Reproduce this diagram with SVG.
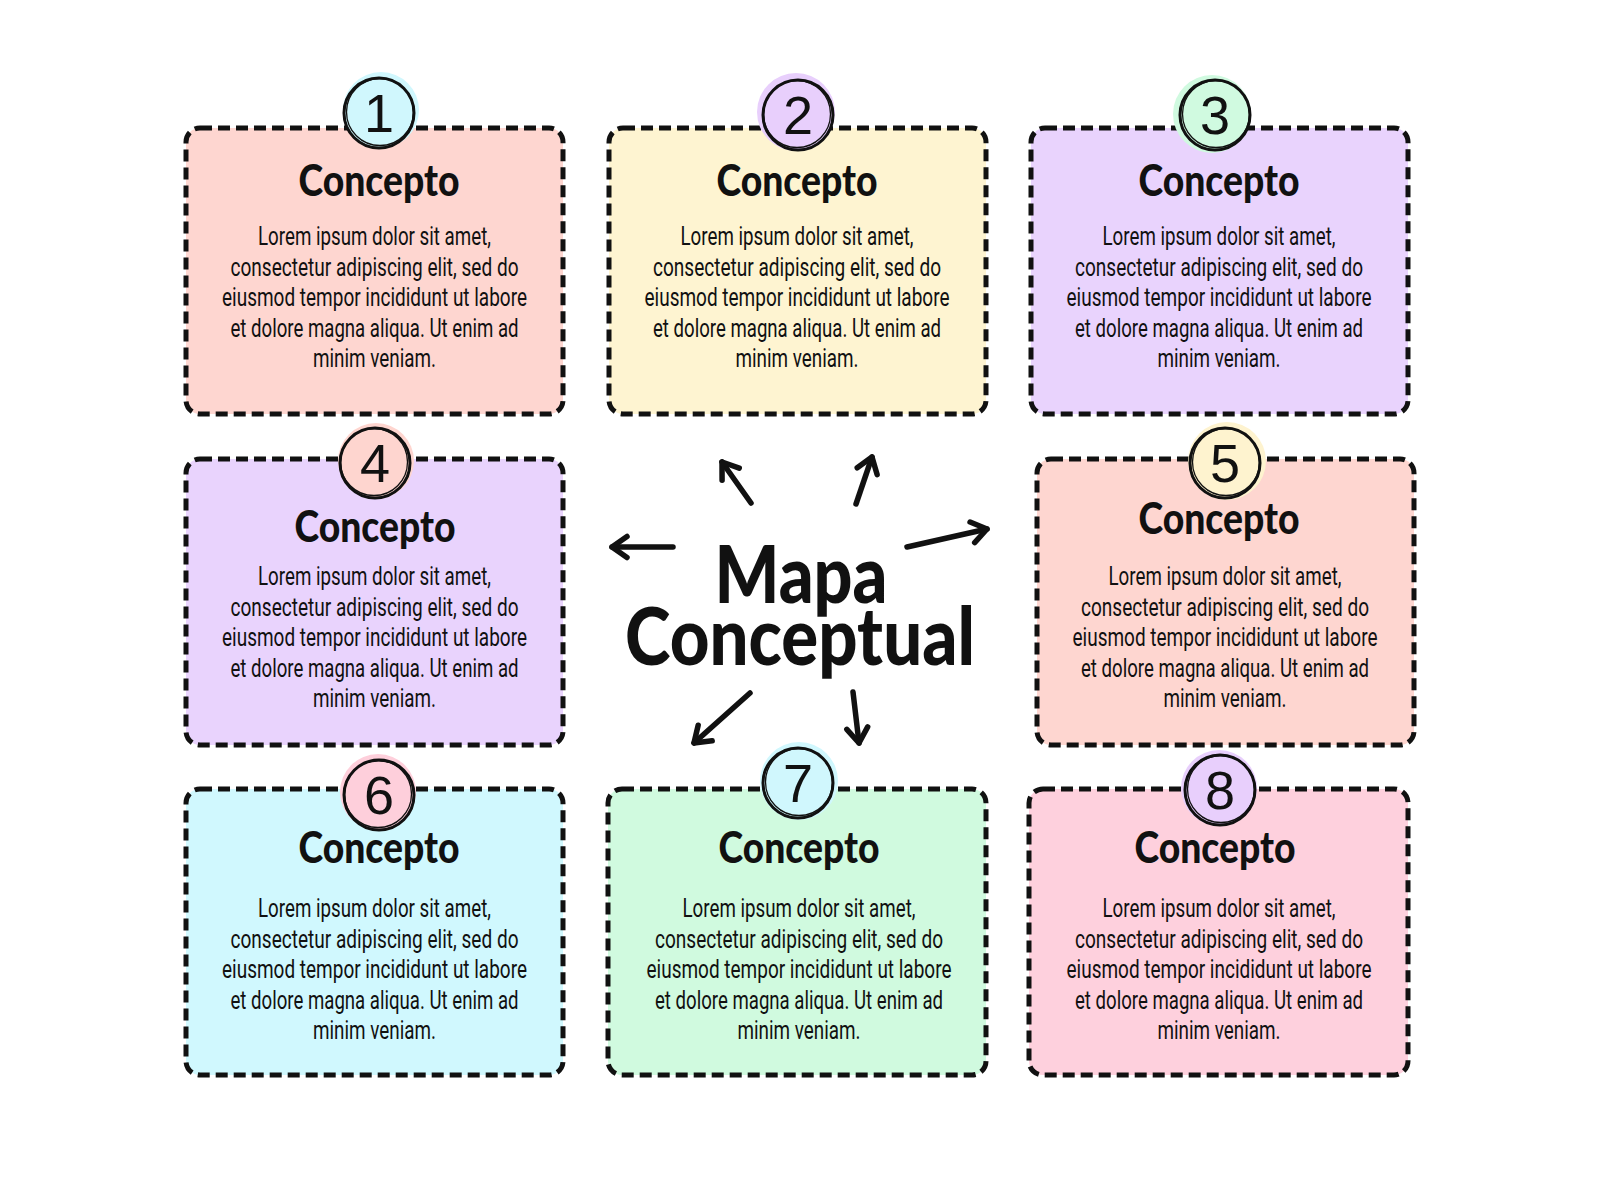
<svg xmlns="http://www.w3.org/2000/svg" width="1600" height="1200" viewBox="0 0 1600 1200">
<style>
.box{stroke:#111;stroke-width:5;stroke-dasharray:12 6;stroke-linecap:butt}
.ring{fill:none;stroke:#111;stroke-width:3}
.ring2{fill:none;stroke:#111;stroke-width:1.3}
.num{font-family:"Liberation Sans","DejaVu Sans",sans-serif;font-size:54px;font-weight:400;fill:#111;text-anchor:middle}
.title{font-family:Lato,"Liberation Sans",sans-serif;font-weight:900;font-size:44px;fill:#111;text-anchor:middle}
.body{font-family:Roboto,"Liberation Sans",sans-serif;font-size:25px;fill:#111;text-anchor:middle}
.main{font-family:Lato,"Liberation Sans",sans-serif;font-weight:900;font-size:80px;fill:#111;text-anchor:middle}
.arrow{fill:none;stroke:#111;stroke-width:5.5;stroke-linecap:round;stroke-linejoin:round}
</style>
<defs>
<marker id="head" markerUnits="userSpaceOnUse" orient="auto" refX="0" refY="0" markerWidth="40" markerHeight="40" overflow="visible">
<path d="M-15,-10.5 L0,0 L-15,10.5" fill="none" stroke="#111" stroke-width="5.5" stroke-linecap="round" stroke-linejoin="round"/>
</marker>
</defs>
<rect width="1600" height="1200" fill="#fff"/>

<g id="connectors">
<line class="arrow" x1="673" y1="547" x2="612" y2="547" marker-end="url(#head)"/>
<line class="arrow" x1="751" y1="503" x2="722" y2="462" marker-end="url(#head)"/>
<line class="arrow" x1="856" y1="504" x2="872" y2="457" marker-end="url(#head)"/>
<line class="arrow" x1="907" y1="547" x2="987" y2="529" marker-end="url(#head)"/>
<line class="arrow" x1="750" y1="693" x2="694" y2="743" marker-end="url(#head)"/>
<line class="arrow" x1="853" y1="692" x2="859" y2="743" marker-end="url(#head)"/>
</g>

<g id="center">
<text class="main" x="801" y="603" textLength="173" lengthAdjust="spacingAndGlyphs">Mapa</text>
<text class="main" x="800" y="665" textLength="350" lengthAdjust="spacingAndGlyphs">Conceptual</text>
</g>

<g id="node1">
<rect class="box" x="186" y="128" width="377" height="286" rx="14" fill="#FED6D0"/>
<circle cx="381" cy="110" r="38" fill="#D0F7FD"/>
<circle class="ring" cx="379" cy="113" r="35"/>
<circle class="ring2" cx="380" cy="112" r="33.5"/>
<text class="num" x="379" y="132">1</text>
<text class="title" x="379" y="196" textLength="161" lengthAdjust="spacingAndGlyphs">Concepto</text>
<text class="body" x="374.5" y="245" textLength="233" lengthAdjust="spacingAndGlyphs">Lorem ipsum dolor sit amet,</text>
<text class="body" x="374.5" y="276" textLength="288" lengthAdjust="spacingAndGlyphs">consectetur adipiscing elit, sed do</text>
<text class="body" x="374.5" y="306" textLength="305" lengthAdjust="spacingAndGlyphs">eiusmod tempor incididunt ut labore</text>
<text class="body" x="374.5" y="337" textLength="288" lengthAdjust="spacingAndGlyphs">et dolore magna aliqua. Ut enim ad</text>
<text class="body" x="374.5" y="367" textLength="123" lengthAdjust="spacingAndGlyphs">minim veniam.</text>
</g>

<g id="node2">
<rect class="box" x="609" y="128" width="377" height="286" rx="14" fill="#FEF4D1"/>
<circle cx="796" cy="112" r="39" fill="#E8CFFC"/>
<circle class="ring" cx="798" cy="115" r="35"/>
<circle class="ring2" cx="797" cy="114" r="33.5"/>
<text class="num" x="798" y="134">2</text>
<text class="title" x="797" y="196" textLength="161" lengthAdjust="spacingAndGlyphs">Concepto</text>
<text class="body" x="797" y="245" textLength="233" lengthAdjust="spacingAndGlyphs">Lorem ipsum dolor sit amet,</text>
<text class="body" x="797" y="276" textLength="288" lengthAdjust="spacingAndGlyphs">consectetur adipiscing elit, sed do</text>
<text class="body" x="797" y="306" textLength="305" lengthAdjust="spacingAndGlyphs">eiusmod tempor incididunt ut labore</text>
<text class="body" x="797" y="337" textLength="288" lengthAdjust="spacingAndGlyphs">et dolore magna aliqua. Ut enim ad</text>
<text class="body" x="797" y="367" textLength="123" lengthAdjust="spacingAndGlyphs">minim veniam.</text>
</g>

<g id="node3">
<rect class="box" x="1031" y="128" width="377" height="286" rx="14" fill="#E9D3FD"/>
<circle cx="1212" cy="114" r="39" fill="#D0FAE0"/>
<circle class="ring" cx="1215" cy="115" r="35"/>
<circle class="ring2" cx="1216" cy="114" r="33.5"/>
<text class="num" x="1215" y="134">3</text>
<text class="title" x="1219" y="196" textLength="161" lengthAdjust="spacingAndGlyphs">Concepto</text>
<text class="body" x="1219" y="245" textLength="233" lengthAdjust="spacingAndGlyphs">Lorem ipsum dolor sit amet,</text>
<text class="body" x="1219" y="276" textLength="288" lengthAdjust="spacingAndGlyphs">consectetur adipiscing elit, sed do</text>
<text class="body" x="1219" y="306" textLength="305" lengthAdjust="spacingAndGlyphs">eiusmod tempor incididunt ut labore</text>
<text class="body" x="1219" y="337" textLength="288" lengthAdjust="spacingAndGlyphs">et dolore magna aliqua. Ut enim ad</text>
<text class="body" x="1219" y="367" textLength="123" lengthAdjust="spacingAndGlyphs">minim veniam.</text>
</g>

<g id="node4">
<rect class="box" x="186" y="459" width="377" height="286" rx="14" fill="#E9D3FD"/>
<circle cx="376" cy="461" r="38" fill="#FED5CF"/>
<circle class="ring" cx="375" cy="463" r="35"/>
<circle class="ring2" cx="374" cy="462" r="33.5"/>
<text class="num" x="375" y="482">4</text>
<text class="title" x="375" y="542" textLength="161" lengthAdjust="spacingAndGlyphs">Concepto</text>
<text class="body" x="374.5" y="585" textLength="233" lengthAdjust="spacingAndGlyphs">Lorem ipsum dolor sit amet,</text>
<text class="body" x="374.5" y="616" textLength="288" lengthAdjust="spacingAndGlyphs">consectetur adipiscing elit, sed do</text>
<text class="body" x="374.5" y="646" textLength="305" lengthAdjust="spacingAndGlyphs">eiusmod tempor incididunt ut labore</text>
<text class="body" x="374.5" y="677" textLength="288" lengthAdjust="spacingAndGlyphs">et dolore magna aliqua. Ut enim ad</text>
<text class="body" x="374.5" y="707" textLength="123" lengthAdjust="spacingAndGlyphs">minim veniam.</text>
</g>

<g id="node5">
<rect class="box" x="1037" y="459" width="377" height="286" rx="14" fill="#FED6D0"/>
<circle cx="1227" cy="461" r="39" fill="#FEF3CF"/>
<circle class="ring" cx="1225" cy="463" r="35"/>
<circle class="ring2" cx="1226" cy="462" r="33.5"/>
<text class="num" x="1225" y="482">5</text>
<text class="title" x="1219" y="534" textLength="161" lengthAdjust="spacingAndGlyphs">Concepto</text>
<text class="body" x="1225" y="585" textLength="233" lengthAdjust="spacingAndGlyphs">Lorem ipsum dolor sit amet,</text>
<text class="body" x="1225" y="616" textLength="288" lengthAdjust="spacingAndGlyphs">consectetur adipiscing elit, sed do</text>
<text class="body" x="1225" y="646" textLength="305" lengthAdjust="spacingAndGlyphs">eiusmod tempor incididunt ut labore</text>
<text class="body" x="1225" y="677" textLength="288" lengthAdjust="spacingAndGlyphs">et dolore magna aliqua. Ut enim ad</text>
<text class="body" x="1225" y="707" textLength="123" lengthAdjust="spacingAndGlyphs">minim veniam.</text>
</g>

<g id="node6">
<rect class="box" x="186" y="789" width="377" height="286" rx="14" fill="#D0F8FE"/>
<circle cx="378" cy="792" r="38" fill="#FECFDB"/>
<circle class="ring" cx="379" cy="795" r="35"/>
<circle class="ring2" cx="378" cy="794" r="33.5"/>
<text class="num" x="379" y="814">6</text>
<text class="title" x="379" y="863" textLength="161" lengthAdjust="spacingAndGlyphs">Concepto</text>
<text class="body" x="374.5" y="917" textLength="233" lengthAdjust="spacingAndGlyphs">Lorem ipsum dolor sit amet,</text>
<text class="body" x="374.5" y="948" textLength="288" lengthAdjust="spacingAndGlyphs">consectetur adipiscing elit, sed do</text>
<text class="body" x="374.5" y="978" textLength="305" lengthAdjust="spacingAndGlyphs">eiusmod tempor incididunt ut labore</text>
<text class="body" x="374.5" y="1009" textLength="288" lengthAdjust="spacingAndGlyphs">et dolore magna aliqua. Ut enim ad</text>
<text class="body" x="374.5" y="1039" textLength="123" lengthAdjust="spacingAndGlyphs">minim veniam.</text>
</g>

<g id="node7">
<rect class="box" x="608" y="789" width="378" height="286" rx="14" fill="#D0FADF"/>
<circle cx="799" cy="781" r="39" fill="#D0F7FD"/>
<circle class="ring" cx="798" cy="783" r="35"/>
<circle class="ring2" cx="799" cy="782" r="33.5"/>
<text class="num" x="798" y="802">7</text>
<text class="title" x="799" y="863" textLength="161" lengthAdjust="spacingAndGlyphs">Concepto</text>
<text class="body" x="799" y="917" textLength="233" lengthAdjust="spacingAndGlyphs">Lorem ipsum dolor sit amet,</text>
<text class="body" x="799" y="948" textLength="288" lengthAdjust="spacingAndGlyphs">consectetur adipiscing elit, sed do</text>
<text class="body" x="799" y="978" textLength="305" lengthAdjust="spacingAndGlyphs">eiusmod tempor incididunt ut labore</text>
<text class="body" x="799" y="1009" textLength="288" lengthAdjust="spacingAndGlyphs">et dolore magna aliqua. Ut enim ad</text>
<text class="body" x="799" y="1039" textLength="123" lengthAdjust="spacingAndGlyphs">minim veniam.</text>
</g>

<g id="node8">
<rect class="box" x="1029" y="789" width="379" height="286" rx="14" fill="#FED0DD"/>
<circle cx="1219" cy="788" r="38" fill="#E8CFFC"/>
<circle class="ring" cx="1220" cy="790" r="35"/>
<circle class="ring2" cx="1221" cy="789" r="33.5"/>
<text class="num" x="1220" y="809">8</text>
<text class="title" x="1215" y="863" textLength="161" lengthAdjust="spacingAndGlyphs">Concepto</text>
<text class="body" x="1219" y="917" textLength="233" lengthAdjust="spacingAndGlyphs">Lorem ipsum dolor sit amet,</text>
<text class="body" x="1219" y="948" textLength="288" lengthAdjust="spacingAndGlyphs">consectetur adipiscing elit, sed do</text>
<text class="body" x="1219" y="978" textLength="305" lengthAdjust="spacingAndGlyphs">eiusmod tempor incididunt ut labore</text>
<text class="body" x="1219" y="1009" textLength="288" lengthAdjust="spacingAndGlyphs">et dolore magna aliqua. Ut enim ad</text>
<text class="body" x="1219" y="1039" textLength="123" lengthAdjust="spacingAndGlyphs">minim veniam.</text>
</g>
</svg>
